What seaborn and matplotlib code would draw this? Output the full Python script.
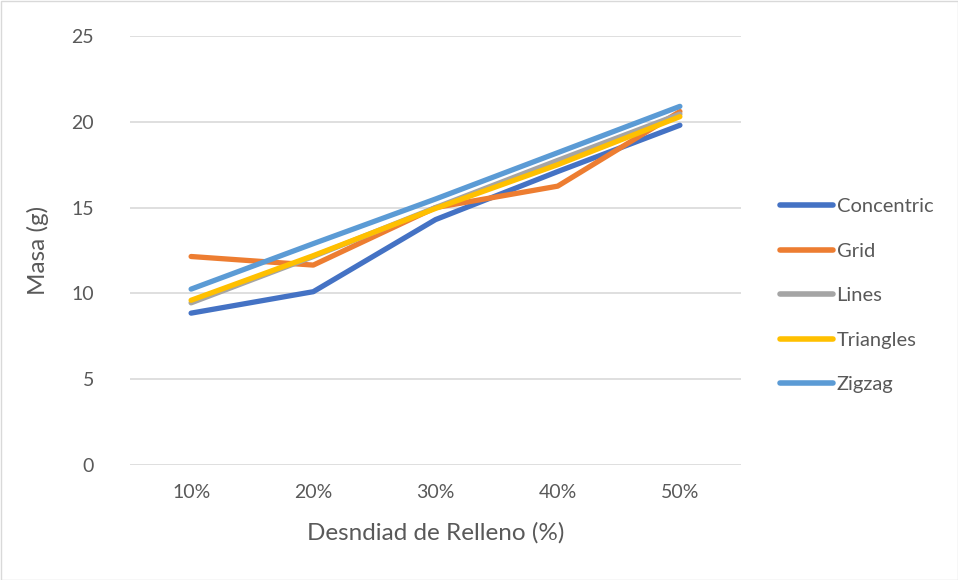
import matplotlib
matplotlib.use("Agg")
import matplotlib.pyplot as plt
import seaborn as sns
import pandas as pd

categories = ["10%", "20%", "30%", "40%", "50%"]
concentric = [8.85, 10.1, 14.3, 17.1, 19.8]
grid = [12.15, 11.65, 15.0, 16.25, 20.6]
lines_ = [9.45, 12.15, 15.0, 17.75, 20.45]
triangles = [9.6, 12.2, 14.95, 17.5, 20.3]
zigzag = [10.25, 12.9, 15.5, 18.2, 20.9]
series_names = ["Concentric", "Grid", "Lines", "Triangles", "Zigzag"]
colors = ["#4472C4", "#ED7D31", "#A5A5A5", "#FFC000", "#5B9BD5"]

rows = []
for name, vals in zip(series_names, [concentric, grid, lines_, triangles, zigzag]):
    for i, (c, v) in enumerate(zip(categories, vals)):
        rows.append({"pos": i, "cat": c, "serie": name, "val": v})
df = pd.DataFrame(rows)

sns.set_theme(style="white")
plt.rcParams["font.family"] = ["Lato", "DejaVu Sans"]
txt = "#595959"

fig = plt.figure(figsize=(9.58, 5.8), dpi=100)
ax = fig.add_axes([130/958, 1-465/580, (741-130)/958, (465-36)/580])

sns.lineplot(data=df, x="pos", y="val", hue="serie", hue_order=series_names,
             palette=colors, linewidth=3.8, ax=ax, sort=False, legend=True)
for l in ax.lines:
    l.set_solid_capstyle("round")
    l.set_solid_joinstyle("round")

ax.set_xlim(-0.5, 4.5)
ax.set_ylim(0, 25)
ax.set_yticks([0, 5, 10, 15, 20, 25])
ax.set_xticks(range(len(categories)))
ax.set_xticklabels(categories)
ax.yaxis.grid(True, color="#D9D9D9", linewidth=1.2)
ax.set_axisbelow(True)
for s in ax.spines.values():
    s.set_visible(False)
ax.tick_params(axis="both", length=0, labelsize=14, colors=txt)
ax.tick_params(axis="y", pad=26)
ax.tick_params(axis="x", pad=14)
ax.set_xlabel("Desndiad de Relleno (%)", fontsize=17.5, color=txt, labelpad=15)
ax.set_ylabel("Masa (g)", fontsize=17.5, color=txt, labelpad=16)

leg = ax.legend(loc="upper left", bbox_to_anchor=(762/958, 1-180/580),
                bbox_transform=fig.transFigure, frameon=False, fontsize=14.5,
                handlelength=2.65, handletextpad=0.15, labelspacing=1.36,
                labelcolor=txt)
for h in leg.get_lines():
    h.set_linewidth(4)
    h.set_solid_capstyle("round")

border = plt.Rectangle((0.5/958, 0.5/580), 1-1/958, 1-1/580, transform=fig.transFigure,
                       fill=False, edgecolor="#D9D9D9", linewidth=1)
fig.patches.append(border)

fig.savefig("out.png", dpi=100)
